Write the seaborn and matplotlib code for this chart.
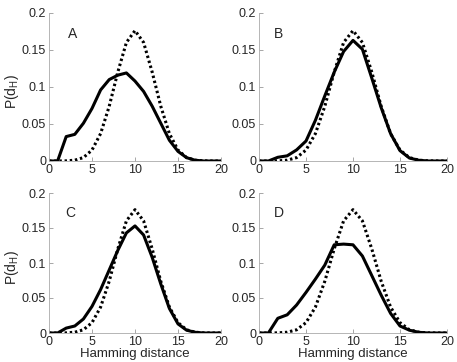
import numpy as np
import pandas as pd
import matplotlib
matplotlib.use("Agg")
import matplotlib.pyplot as plt
import seaborn as sns

# Hamming distance axis
hamming = list(range(21))

# dotted reference curve (same in every panel)
reference = [0.0, 0.00002, 0.0002, 0.0011, 0.0046, 0.0148, 0.0370, 0.0739, 0.1201,
             0.1602, 0.1762, 0.1602, 0.1201, 0.0739, 0.0370, 0.0148, 0.0046,
             0.0011, 0.0002, 0.00002, 0.0]

# solid curves, one per panel
panel_a = [0.0, 0.0, 0.033, 0.036, 0.051, 0.071, 0.096, 0.110, 0.116, 0.119, 0.108,
           0.094, 0.074, 0.051, 0.028, 0.013, 0.0045, 0.001, 0.0, 0.0, 0.0]
panel_b = [0.0, 0.0, 0.005, 0.007, 0.015, 0.027, 0.055, 0.088, 0.120, 0.148, 0.163,
           0.151, 0.112, 0.072, 0.037, 0.014, 0.004, 0.001, 0.0, 0.0, 0.0]
panel_c = [0.0, 0.0, 0.007, 0.010, 0.020, 0.038, 0.062, 0.090, 0.118, 0.143, 0.153,
           0.140, 0.108, 0.070, 0.035, 0.013, 0.004, 0.001, 0.0, 0.0, 0.0]
panel_d = [0.0, 0.0, 0.021, 0.026, 0.040, 0.058, 0.077, 0.097, 0.126, 0.127, 0.126,
           0.110, 0.082, 0.054, 0.028, 0.010, 0.004, 0.001, 0.0, 0.0, 0.0]

panel_names = ["A", "B", "C", "D"]
panel_series = [panel_a, panel_b, panel_c, panel_d]

sns.set_theme(style="ticks")
plt.rcParams["font.family"] = ["Liberation Sans", "DejaVu Sans"]
plt.rcParams["mathtext.fontset"] = "custom"
plt.rcParams["mathtext.rm"] = "Liberation Sans"
plt.rcParams["mathtext.it"] = "Liberation Sans"

fig = plt.figure(figsize=(4.57, 3.62), dpi=100)

# axes rectangles in figure fraction (left, bottom, width, height)
rects = [
    (49 / 457, 1 - 161 / 362, 172 / 457, 148 / 362),
    (259 / 457, 1 - 161 / 362, 188 / 457, 148 / 362),
    (49 / 457, 1 - 333 / 362, 172 / 457, 140 / 362),
    (259 / 457, 1 - 333 / 362, 188 / 457, 140 / 362),
]
letter_x = [2.2, 1.6, 1.9, 1.6]

for i, (name, solid) in enumerate(zip(panel_names, panel_series)):
    ax = fig.add_axes(rects[i])
    df = pd.DataFrame({"d": hamming, "ref": reference, "obs": solid})

    sns.lineplot(data=df, x="d", y="ref", ax=ax, color="black", lw=2.2,
                 linestyle=(0, (0.8, 0.9)))
    sns.lineplot(data=df, x="d", y="obs", ax=ax, color="black", lw=2.2)

    ax.set_xlim(0, 20)
    ax.set_ylim(0, 0.2)
    ax.set_xticks([0, 5, 10, 15, 20])
    ax.set_yticks([0, 0.05, 0.1, 0.15, 0.2])
    ax.set_yticklabels(["0", "0.05", "0.1", "0.15", "0.2"])
    ax.tick_params(direction="in", length=3, width=0.6, color="#999999",
                   labelsize=9, pad=2)
    for side in ["top", "right"]:
        ax.spines[side].set_visible(False)
    for side in ["left", "bottom"]:
        ax.spines[side].set_color("#aaaaaa")
        ax.spines[side].set_linewidth(0.6)

    ax.text(letter_x[i], 0.172, name, fontsize=10, ha="left", va="center")

    if i in (0, 2):
        ax.set_ylabel(r"P(d$_\mathregular{H}$)", fontsize=10)
        ax.yaxis.set_label_coords(-0.165, 0.47)
    else:
        ax.set_ylabel("")
    if i in (2, 3):
        ax.set_xlabel("Hamming distance", fontsize=9.5)
        ax.xaxis.set_label_coords(0.5, -0.11)
    else:
        ax.set_xlabel("")

fig.savefig("out.png", dpi=100)
